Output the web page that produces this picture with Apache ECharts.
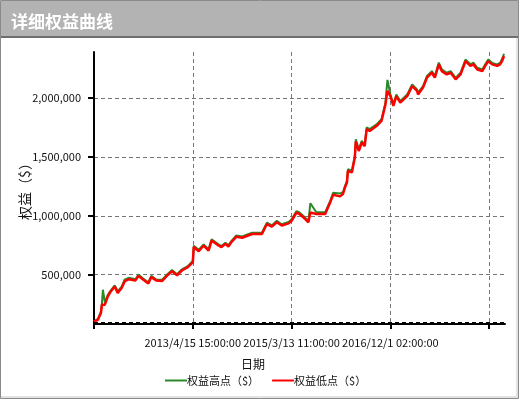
<!DOCTYPE html>
<html>
<head>
<meta charset="utf-8">
<script src="https://cdn.jsdelivr.net/npm/echarts@6/dist/echarts.min.js"></script>
<style>
html,body{margin:0;padding:0;background:#fff;}
#chart{width:520px;height:400px;}
</style>
</head>
<body>
<div id="chart"></div>
<script>
// Data
var titleText = '详细权益曲线';
var yAxisName = '权益（$）';
var xAxisName = '日期';
var seriesNames = ['权益高点（$）', '权益低点（$）'];
var xTickPositions = [0, 100, 200, 300, 400];
var xTickLabels = ['', '2013/4/15 15:00:00', '2015/3/13 11:00:00', '2016/12/1 02:00:00', ''];
var yTickValues = [500000, 1000000, 1500000, 2000000];
var startEquity = 100000;

var barIndex = [0,4,7,8,9,11,14,17,21,24,28,30,31,35,42,45,50,55,58,63,69,74,79,84,89,95,100,101,106,111,116,119,126,129,133,136,139,144,150,160,170,175,180,185,190,197,200,205,208,212,217,219,225,234,239,242,249,252,254,256,257,261,264,265,268,271,274,276,279,286,291,295,297,300,303,306,310,317,322,327,328,333,337,342,345,349,352,357,361,366,371,376,381,384,388,393,396,399,403,408,411,413,415];
var lowValues = [100000,119000,175000,246000,260000,246000,316000,358000,401000,345000,387000,373000,443000,462000,452000,490000,458000,425000,480000,452000,447000,492000,530000,495000,536000,565000,605000,735000,700000,748000,705000,790000,748000,735000,762000,740000,776000,822000,814000,846000,846000,930000,908000,945000,918000,936000,958000,1028000,1015000,986000,945000,1028000,1015000,1015000,1112000,1178000,1165000,1185000,1240000,1282000,1380000,1368000,1495000,1630000,1550000,1620000,1592000,1735000,1720000,1762000,1805000,1945000,2060000,2015000,1932000,2015000,1960000,2015000,2100000,2060000,2030000,2088000,2172000,2214000,2172000,2285000,2228000,2200000,2214000,2158000,2200000,2312000,2272000,2285000,2242000,2228000,2272000,2312000,2285000,2272000,2285000,2312000,2355000];
var highValues = [105000,125000,185000,255000,373000,265000,330000,368000,410000,360000,398000,385000,458000,474000,462000,502000,466000,436000,490000,460000,458000,503000,540000,505000,546000,574000,618000,745000,712000,758000,716000,800000,758000,744000,772000,750000,786000,834000,824000,857000,858000,942000,918000,958000,928000,948000,970000,1040000,1028000,998000,956000,1107000,1030000,1032000,1125000,1195000,1190000,1200000,1252000,1295000,1395000,1382000,1508000,1650000,1565000,1636000,1606000,1750000,1736000,1776000,1820000,1960000,2153000,2032000,1946000,2030000,1975000,2030000,2115000,2072000,2045000,2100000,2186000,2228000,2186000,2300000,2242000,2214000,2228000,2170000,2214000,2326000,2286000,2300000,2256000,2242000,2285000,2326000,2298000,2285000,2298000,2330000,2375000];

function pairs(xs, ys) { return xs.map(function (x, i) { return [x, ys[i]]; }); }

var chart = echarts.init(document.getElementById('chart'), null, {renderer: 'canvas'});
var font = "'Noto Sans CJK SC', 'Noto Sans', sans-serif";
var greenColor = '#2a8a2a';
var redColor = '#ff0000';
var option = {
  animation: false,
  textStyle: {fontFamily: font},
  graphic: [
    {type: 'rect', silent: true, z: -10, shape: {x: 0.5, y: 0.5, width: 518, height: 398}, style: {fill: '#fff', stroke: '#8a8a8a', lineWidth: 1}},
    {type: 'rect', silent: true, z: -9, shape: {x: 1, y: 1, width: 517, height: 35}, style: {fill: '#b3b3b3'}},
    {type: 'rect', silent: true, z: -9, shape: {x: 1, y: 36, width: 517, height: 2}, style: {fill: '#6e6e6e'}},
    {type: 'rect', silent: true, z: -9, shape: {x: 516, y: 38, width: 2, height: 360}, style: {fill: '#e3e3e3'}},
    {type: 'rect', silent: true, z: -9, shape: {x: 1, y: 396, width: 517, height: 2}, style: {fill: '#e3e3e3'}}
  ],
  title: {
    text: titleText, left: 6, top: 8,
    textStyle: {color: '#fff', fontSize: 17, fontWeight: 'bold', fontFamily: font}
  },
  legend: {
    data: [
      {name: seriesNames[0], icon: 'rect', itemStyle: {color: greenColor}},
      {name: seriesNames[1], icon: 'rect', itemStyle: {color: redColor}}
    ],
    left: 165, top: 375, padding: 0, itemWidth: 22, itemHeight: 2, itemGap: 13,
    textStyle: {fontSize: 11, color: '#111', padding: [0, 0, 0, -5]}
  },
  grid: {left: 94, right: 15, top: 52, bottom: 76, containLabel: false},
  xAxis: {
    type: 'value', min: 0, max: 416,
    name: xAxisName, nameLocation: 'middle', nameGap: 34, nameMoveOverlap: false,
    nameTextStyle: {fontSize: 12, color: '#111', padding: [0, 93, 0, 0]},
    axisLine: {show: true, onZero: false, lineStyle: {color: '#000', width: 2}},
    axisTick: {show: true, length: 5, customValues: xTickPositions, lineStyle: {color: '#000', width: 2}},
    axisLabel: {
      customValues: xTickPositions, margin: 13, fontSize: 11, color: '#111',
      formatter: function (v) { var i = xTickPositions.indexOf(v); return i >= 0 ? xTickLabels[i] : ''; }
    },
    splitLine: {show: true, lineStyle: {color: '#777', type: [4, 3], width: 1}}
  },
  yAxis: {
    type: 'value', min: 82000, max: 2390000,
    name: yAxisName, nameLocation: 'middle', nameGap: 62, nameRotate: 90, nameMoveOverlap: false,
    nameTextStyle: {fontSize: 14, color: '#111'},
    axisLine: {show: true, lineStyle: {color: '#000', width: 2}},
    axisTick: {show: true, length: 6, customValues: yTickValues, lineStyle: {color: '#000', width: 2}},
    axisLabel: {
      customValues: yTickValues, margin: 13, fontSize: 11, color: '#111',
      formatter: function (v) { return v.toLocaleString('en-US'); }
    },
    splitLine: {show: true, lineStyle: {color: '#777', type: [4, 3], width: 1}}
  },
  series: [
    {
      name: seriesNames[0], type: 'line', data: pairs(barIndex, highValues),
      showSymbol: false, symbol: 'none', color: greenColor,
      lineStyle: {color: greenColor, width: 2}, z: 2
    },
    {
      name: seriesNames[1], type: 'line', data: pairs(barIndex, lowValues),
      showSymbol: false, symbol: 'none', color: redColor,
      lineStyle: {color: redColor, width: 2.5}, z: 3,
      markLine: {
        silent: true, symbol: 'none', label: {show: false},
        lineStyle: {color: '#000', type: [4, 3], width: 1},
        data: [{yAxis: startEquity}]
      }
    }
  ]
};
chart.setOption(option);
</script>
</body>
</html>
